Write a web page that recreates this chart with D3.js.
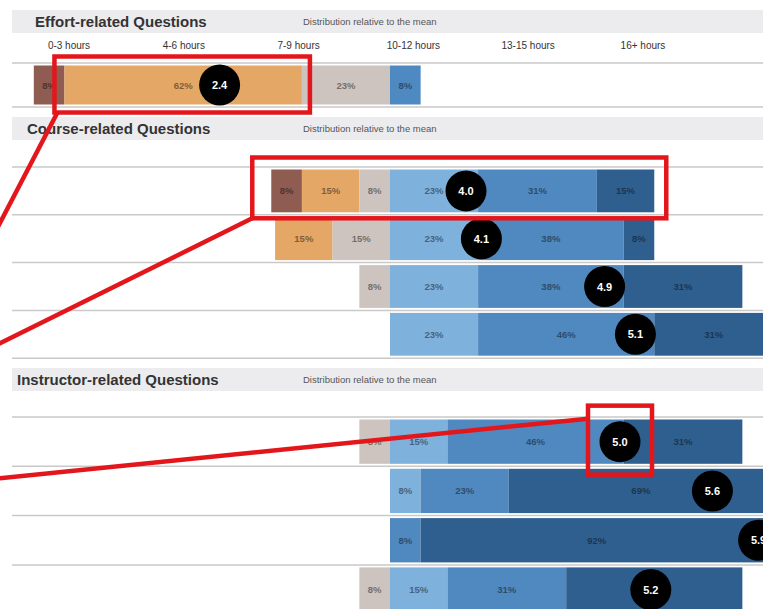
<!doctype html>
<html>
<head>
<script src="https://d3js.org/d3.v7.min.js"></script>
<style>
  body { margin: 0; background: #fff; }
  svg { display: block; font-family: Arial, "Liberation Sans", sans-serif; }
</style>
</head>
<body>
<svg id="chart" width="763" height="609"></svg>
<script>
// ---- data ----
var effortCats = ["0-3 hours", "4-6 hours", "7-9 hours", "10-12 hours", "13-15 hours", "16+ hours"];
var effortPct = [[8, 62, 23, 8, 0, 0]];
var effortMean = [2.4];

var coursePct = [
  [8, 15, 8, 23, 31, 15],
  [0, 15, 15, 23, 38, 8],
  [0, 0, 8, 23, 38, 31],
  [0, 0, 0, 23, 46, 31]
];
var courseMean = [4.0, 4.1, 4.9, 5.1];

var instrPct = [
  [0, 0, 8, 15, 46, 31],
  [0, 0, 0, 8, 23, 69],
  [0, 0, 0, 0, 8, 92],
  [0, 0, 8, 15, 31, 46]
];
var instrMean = [5.0, 5.6, 5.9, 5.2];

var effortColors = ["#8f5c52", "#e5a766", "#cdc4bf", "#4f89c2", "#3f77ad", "#2f5f8f"];
var likertColors = ["#8f5c52", "#e5a766", "#cdc4bf", "#7eb1dc", "#5089c0", "#2f5f8f"];

var W = 763, H = 609;
var svg = d3.select("#chart");

// bars diverge around the split between category 3 and 4
var x = d3.scaleLinear().domain([-100, 100]).range([7, 773]);
// mean marker position on the 1..6 scale
var mx = d3.scaleLinear().domain([1, 6]).range([4, 774]);
var tickX = d3.scalePoint().domain(effortCats).range([69, 643]);

var sections = [
  { title: "Effort-related Questions", pct: effortPct, mean: effortMean, colors: effortColors,
    top: 10, titleX: 35, lineY: 63, rowH: 44, ticks: true },
  { title: "Course-related Questions", pct: coursePct, mean: courseMean, colors: likertColors,
    top: 117, titleX: 27, lineY: 167, rowH: 47.8 },
  { title: "Instructor-related Questions", pct: instrPct, mean: instrMean, colors: likertColors,
    top: 368, titleX: 17, lineY: 417, rowH: 49.3 }
];

function segments(row) {
  var left = d3.sum(row.slice(0, 3));
  var acc = -left, out = [];
  row.forEach(function(v, k) {
    if (v > 0) out.push({ k: k, v: v, x0: acc, x1: acc + v });
    acc += v;
  });
  return out;
}

sections.forEach(function(sec) {
  var g = svg.append("g");

  // header band
  g.append("rect").attr("x", 12).attr("y", sec.top).attr("width", W - 12).attr("height", 23)
    .attr("fill", "#ececef");
  g.append("text").attr("x", sec.titleX).attr("y", sec.top + 17)
    .attr("font-size", 15).attr("font-weight", "bold").attr("fill", "#333")
    .text(sec.title);
  g.append("text").attr("x", 303).attr("y", sec.top + 15)
    .attr("font-size", 9.5).attr("fill", "#555")
    .text("Distribution relative to the mean");

  if (sec.ticks) {
    g.selectAll(".tick").data(effortCats).enter().append("text")
      .attr("x", function(d) { return tickX(d); })
      .attr("y", sec.top + 39)
      .attr("text-anchor", "middle").attr("font-size", 10).attr("fill", "#333")
      .text(function(d) { return d; });
  }

  // separator lines
  d3.range(sec.pct.length + 1).forEach(function(i) {
    g.append("line").attr("x1", 12).attr("x2", W)
      .attr("y1", sec.lineY + i * sec.rowH).attr("y2", sec.lineY + i * sec.rowH)
      .attr("stroke", "#c9c9c9").attr("stroke-width", 1.5);
  });

  sec.pct.forEach(function(row, i) {
    var y0 = sec.lineY + i * sec.rowH + 2.5;
    var h = sec.rowH - 5;
    var rg = g.append("g");
    var segs = segments(row);
    var cx = mx(sec.mean[i]);

    rg.selectAll("rect").data(segs).enter().append("rect")
      .attr("x", function(d) { return x(d.x0); })
      .attr("width", function(d) { return x(d.x1) - x(d.x0); })
      .attr("y", y0).attr("height", h)
      .attr("fill", function(d) { return sec.colors[d.k]; });

    // labels that would sit fully under the mean marker are left out (hidden in the original)
    var shown = segs.filter(function(d) { return Math.abs((x(d.x0) + x(d.x1)) / 2 - cx) > 14; });
    rg.selectAll("text").data(shown).enter().append("text")
      .attr("x", function(d) { return (x(d.x0) + x(d.x1)) / 2; })
      .attr("y", y0 + h / 2 + 3.5)
      .attr("text-anchor", "middle").attr("font-size", 9.5).attr("font-weight", "bold")
      .attr("fill", function(d) { return d3.color(sec.colors[d.k]).darker(1.6); })
      .text(function(d) { return d.v + "%"; });

    rg.append("circle").attr("cx", cx).attr("cy", y0 + h / 2).attr("r", 20.5).attr("fill", "#000");
    rg.append("text").attr("x", cx).attr("y", y0 + h / 2 + 4)
      .attr("text-anchor", "middle").attr("font-size", 11).attr("font-weight", "bold")
      .attr("fill", "#fff").text(d3.format(".1f")(sec.mean[i]));

    sec.rows = sec.rows || [];
    sec.rows.push({ y0: y0, h: h, segs: segs, cx: cx });
  });
});

// ---- red call-out annotations ----
var red = "#e3161c";
var ann = svg.append("g").attr("fill", "none").attr("stroke", red).attr("stroke-width", 4.5);

// 1: effort row, "4-6 hours" segment
var r1 = sections[0].rows[0];
var s1 = r1.segs.filter(function(d) { return d.k === 1; })[0];
var b1 = { x: x(s1.x0) - 10, y: r1.y0 - 9, x2: x(s1.x1) + 8, y2: r1.y0 + r1.h + 8 };
ann.append("rect").attr("x", b1.x).attr("y", b1.y).attr("width", b1.x2 - b1.x).attr("height", b1.y2 - b1.y);
ann.append("line").attr("x1", b1.x + 3).attr("y1", b1.y2).attr("x2", -4).attr("y2", b1.y2 + 118);

// 2: first course question, whole bar
var r2 = sections[1].rows[0];
var b2 = { x: x(r2.segs[0].x0) - 19, y: r2.y0 - 12, x2: x(r2.segs[r2.segs.length - 1].x1) + 12, y2: r2.y0 + r2.h + 6 };
ann.append("rect").attr("x", b2.x).attr("y", b2.y).attr("width", b2.x2 - b2.x).attr("height", b2.y2 - b2.y);
ann.append("line").attr("x1", b2.x).attr("y1", b2.y2).attr("x2", -4).attr("y2", b2.y2 + 127);

// 3: first instructor question, mean marker
var r3 = sections[2].rows[0];
var c3y = r3.y0 + r3.h / 2;
var b3 = { x: r3.cx - 32, y: c3y - 36, x2: r3.cx + 32, y2: c3y + 33 };
ann.append("rect").attr("x", b3.x).attr("y", b3.y).attr("width", b3.x2 - b3.x).attr("height", b3.y2 - b3.y);
ann.append("line").attr("x1", b3.x).attr("y1", b3.y + 13).attr("x2", -4).attr("y2", b3.y + 73);
</script>
</body>
</html>
